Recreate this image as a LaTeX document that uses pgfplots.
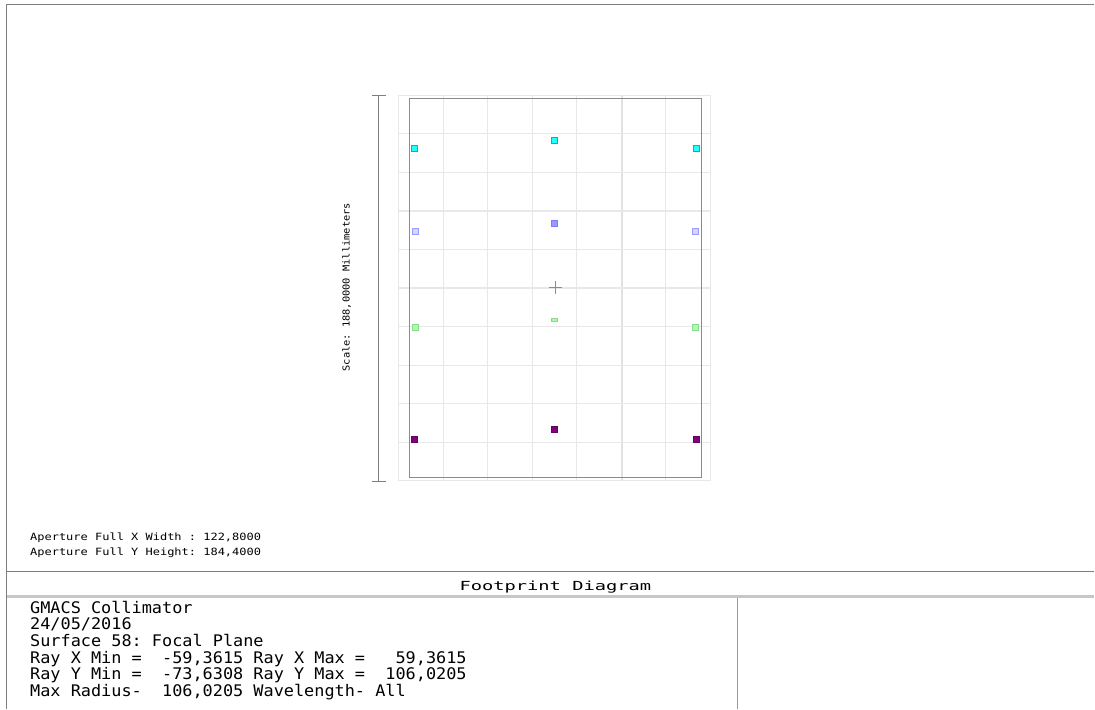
\documentclass[border=0pt]{standalone}
\usepackage{pgfplots}
\pgfplotsset{compat=1.18}
\usepackage{fontspec}
\newfontfamily\mono[FakeStretch=1.055]{DejaVu Sans Mono}
\newfontfamily\monoA[FakeStretch=1.2]{DejaVu Sans Mono}
\newfontfamily\monoS[FakeStretch=1.08]{DejaVu Sans Mono}
\newfontfamily\monoT[FakeStretch=1.5]{DejaVu Sans Mono}
\definecolor{gridc}{HTML}{E8E8E8}
\definecolor{gridd}{HTML}{E2E2E2}
\definecolor{framec}{HTML}{8A8A8A}
\definecolor{borderc}{HTML}{7F7F7F}
\definecolor{cyanc}{HTML}{22FFFF}
\definecolor{bluec}{HTML}{9A9AFF}
\definecolor{bluel}{HTML}{D4D4FF}
\definecolor{greenc}{HTML}{A6FFA6}
\definecolor{purplec}{HTML}{800080}
\begin{document}
\begin{tikzpicture}
\begin{axis}[
  scale only axis, width=1095pt, height=710pt,
  xmin=0, xmax=1095, ymin=0, ymax=710, y dir=reverse,
  axis line style={draw=none}, ticks=none, clip=false,
]
% white background
\addplot[draw=none, fill=white] coordinates {(0,0) (1095,0) (1095,710) (0,710)} -- cycle;
% outer frame and separators
\addplot[borderc, line width=1pt, mark=none] coordinates {(7,710) (7,4) (1095,4)};
\addplot[borderc, line width=1pt, mark=none] coordinates {(7,572.3) (1095,572.3)};
\addplot[black!22, line width=2.5pt, mark=none] coordinates {(7,597) (1095,597)};
\addplot[black!40, line width=1pt, mark=none] coordinates {(738.3,598.5) (738.3,710)};
% grid
\pgfplotsinvokeforeach{399,443.6,488.2,532.8,577.4,666.6,711.2}{
  \addplot[gridc, line width=1pt, mark=none] coordinates {(#1,95.3) (#1,481.7)};
}
\addplot[gridd, line width=1.6pt, mark=none] coordinates {(622.5,95.3) (622.5,481.7)};
\pgfplotsinvokeforeach{95.3,133.9,172.5,249.7,326.9,365.5,442.7,481.3}{
  \addplot[gridc, line width=1pt, mark=none] coordinates {(399,#1) (711.2,#1)};
}
\pgfplotsinvokeforeach{211.1,288.3,404.1}{
  \addplot[gridc, line width=1.4pt, mark=none] coordinates {(399,#1) (711.2,#1)};
}
% aperture rectangle
\addplot[framec, line width=1pt, mark=none] coordinates {(409.7,98.3) (702.3,98.3) (702.3,478.3) (409.7,478.3)} -- cycle;
\addplot[black!45, line width=1.6pt, mark=none] coordinates {(409.9,98.3) (409.9,478.3)};
% scale bar
\addplot[borderc, line width=1pt, mark=none] coordinates {(379.3,95.3) (379.3,481.7)};
\addplot[borderc, line width=1pt, mark=none] coordinates {(372,95.3) (386,95.3)};
\addplot[borderc, line width=1pt, mark=none] coordinates {(372,481.7) (386,481.7)};
% centre cross
\addplot[black!45, line width=1pt, mark=none] coordinates {(549.5,287.6) (562.5,287.6)};
\addplot[black!45, line width=1pt, mark=none] coordinates {(555.7,281.5) (555.7,294.3)};
% footprints
\addplot[only marks, mark=square*, mark size=3pt, mark options={fill=cyanc, draw=cyan!85!black, line width=0.6pt}]
  coordinates {(415,148.3) (555.3,140.7) (696.7,148.3)};
\addplot[only marks, mark=square*, mark size=2.8pt, mark options={fill=bluel, draw=bluec, line width=0.8pt}]
  coordinates {(416,231.7) (696,231.7)};
\addplot[only marks, mark=square*, mark size=3pt, mark options={fill=bluec, draw=bluec!80!blue, line width=0.6pt}]
  coordinates {(555.3,224)};
\addplot[only marks, mark=square*, mark size=2.8pt, mark options={fill=greenc, draw=greenc!85!black, line width=0.5pt}]
  coordinates {(416,327.7) (696,327.7)};
\addplot[only marks, mark=square*, mark size=3pt, mark options={fill=greenc, draw=greenc!85!black, line width=0.5pt, yscale=0.6}]
  coordinates {(555.3,320)};
\addplot[only marks, mark=square*, mark size=3pt, mark options={fill=purplec, draw=purplec!80!black, line width=0.6pt}]
  coordinates {(415,439.7) (555.3,430) (696.7,439.7)};
% texts
\node[rotate=90, inner sep=0] at (axis cs:347,287.5) {\monoS\fontsize{9.6}{10}\selectfont Scale:~188,0000~Millimeters};
\node[anchor=base west, inner sep=0] at (axis cs:30,541.3) {\monoA\fontsize{10}{10}\selectfont Aperture~Full~X~Width~:~122,8000};
\node[anchor=base west, inner sep=0] at (axis cs:30,556.5) {\monoA\fontsize{10}{10}\selectfont Aperture~Full~Y~Height:~184,4000};
\node[anchor=base, inner sep=0] at (axis cs:556,590.7) {\monoT\fontsize{12.5}{12.5}\selectfont Footprint~Diagram};
\node[anchor=base west, inner sep=0] at (axis cs:30,614) {\mono\fontsize{16}{16}\selectfont GMACS~Collimator};
\node[anchor=base west, inner sep=0] at (axis cs:30,630.6) {\mono\fontsize{16}{16}\selectfont 24/05/2016};
\node[anchor=base west, inner sep=0] at (axis cs:30,647.3) {\mono\fontsize{16}{16}\selectfont Surface~58:~Focal~Plane};
\node[anchor=base west, inner sep=0] at (axis cs:30,664) {\mono\fontsize{16}{16}\selectfont Ray~X~Min~=~~-59,3615~Ray~X~Max~=~~~59,3615};
\node[anchor=base west, inner sep=0] at (axis cs:30,680.5) {\mono\fontsize{16}{16}\selectfont Ray~Y~Min~=~~-73,6308~Ray~Y~Max~=~~106,0205};
\node[anchor=base west, inner sep=0] at (axis cs:30,697) {\mono\fontsize{16}{16}\selectfont Max~Radius-~~106,0205~Wavelength-~All};
\end{axis}
\end{tikzpicture}
\end{document}
